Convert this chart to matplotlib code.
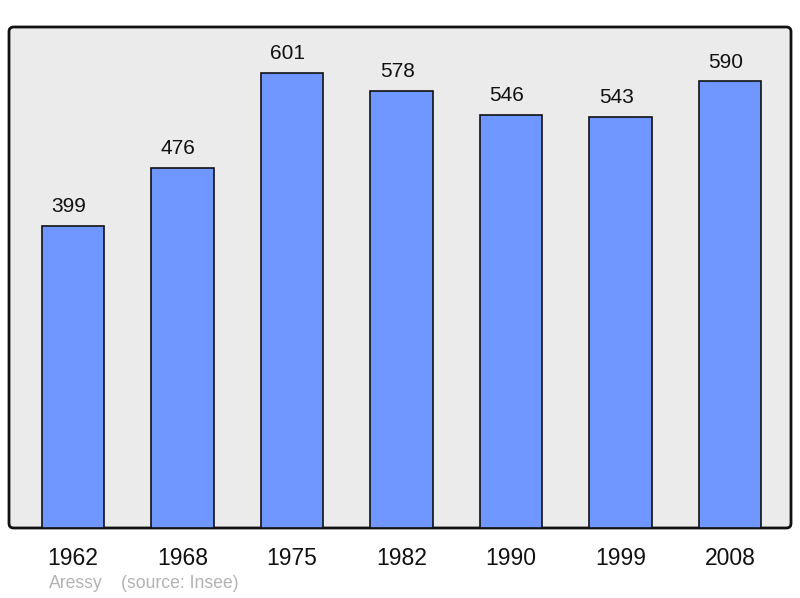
import matplotlib
matplotlib.use('Agg')
import matplotlib.pyplot as plt
import numpy as np
from matplotlib.patches import FancyBboxPatch

# data
years = ['1962', '1968', '1975', '1982', '1990', '1999', '2008']
population = [399, 476, 601, 578, 546, 543, 590]

plt.rcParams['font.family'] = ['Liberation Sans', 'DejaVu Sans']

fig = plt.figure(figsize=(8, 5.98), dpi=100)
ax = fig.add_axes([9/800, 1 - 528/598, 782/800, 501/598])
ax.set_facecolor('none')

# rounded grey frame behind the bars
frame = FancyBboxPatch((0, 0), 1, 1, boxstyle='round,pad=0,rounding_size=0.006',
                       mutation_aspect=782/501, transform=ax.transAxes,
                       facecolor='#ebebeb', edgecolor='#111111', linewidth=2,
                       clip_on=False, zorder=0)
ax.add_patch(frame)

x = np.arange(len(years))
bars = ax.bar(x, population, width=0.57, color='#7096ff', edgecolor='#111111',
              linewidth=1.2, zorder=2)

for xi, v in zip(x, population):
    ax.annotate(str(v), (xi, v), xytext=(-3, 14), textcoords='offset points',
                ha='center', va='center', fontsize=15, color='#111111')

ax.set_xlim(-0.585, 6.557)
ax.set_ylim(0, 662)
ax.set_xticks(x)
ax.set_xticklabels(years, fontsize=16.5, color='#111111')
ax.tick_params(axis='x', length=0, pad=13.5)
ax.set_yticks([])
for s in ax.spines.values():
    s.set_visible(False)

fig.text(49/800, 1 - 584/598, 'Aressy', fontsize=12.7, color='#b3b3b3', va='center')
fig.text(121/800, 1 - 584/598, '(source: Insee)', fontsize=12.7, color='#b3b3b3', va='center')

fig.savefig('out.png', dpi=100)
